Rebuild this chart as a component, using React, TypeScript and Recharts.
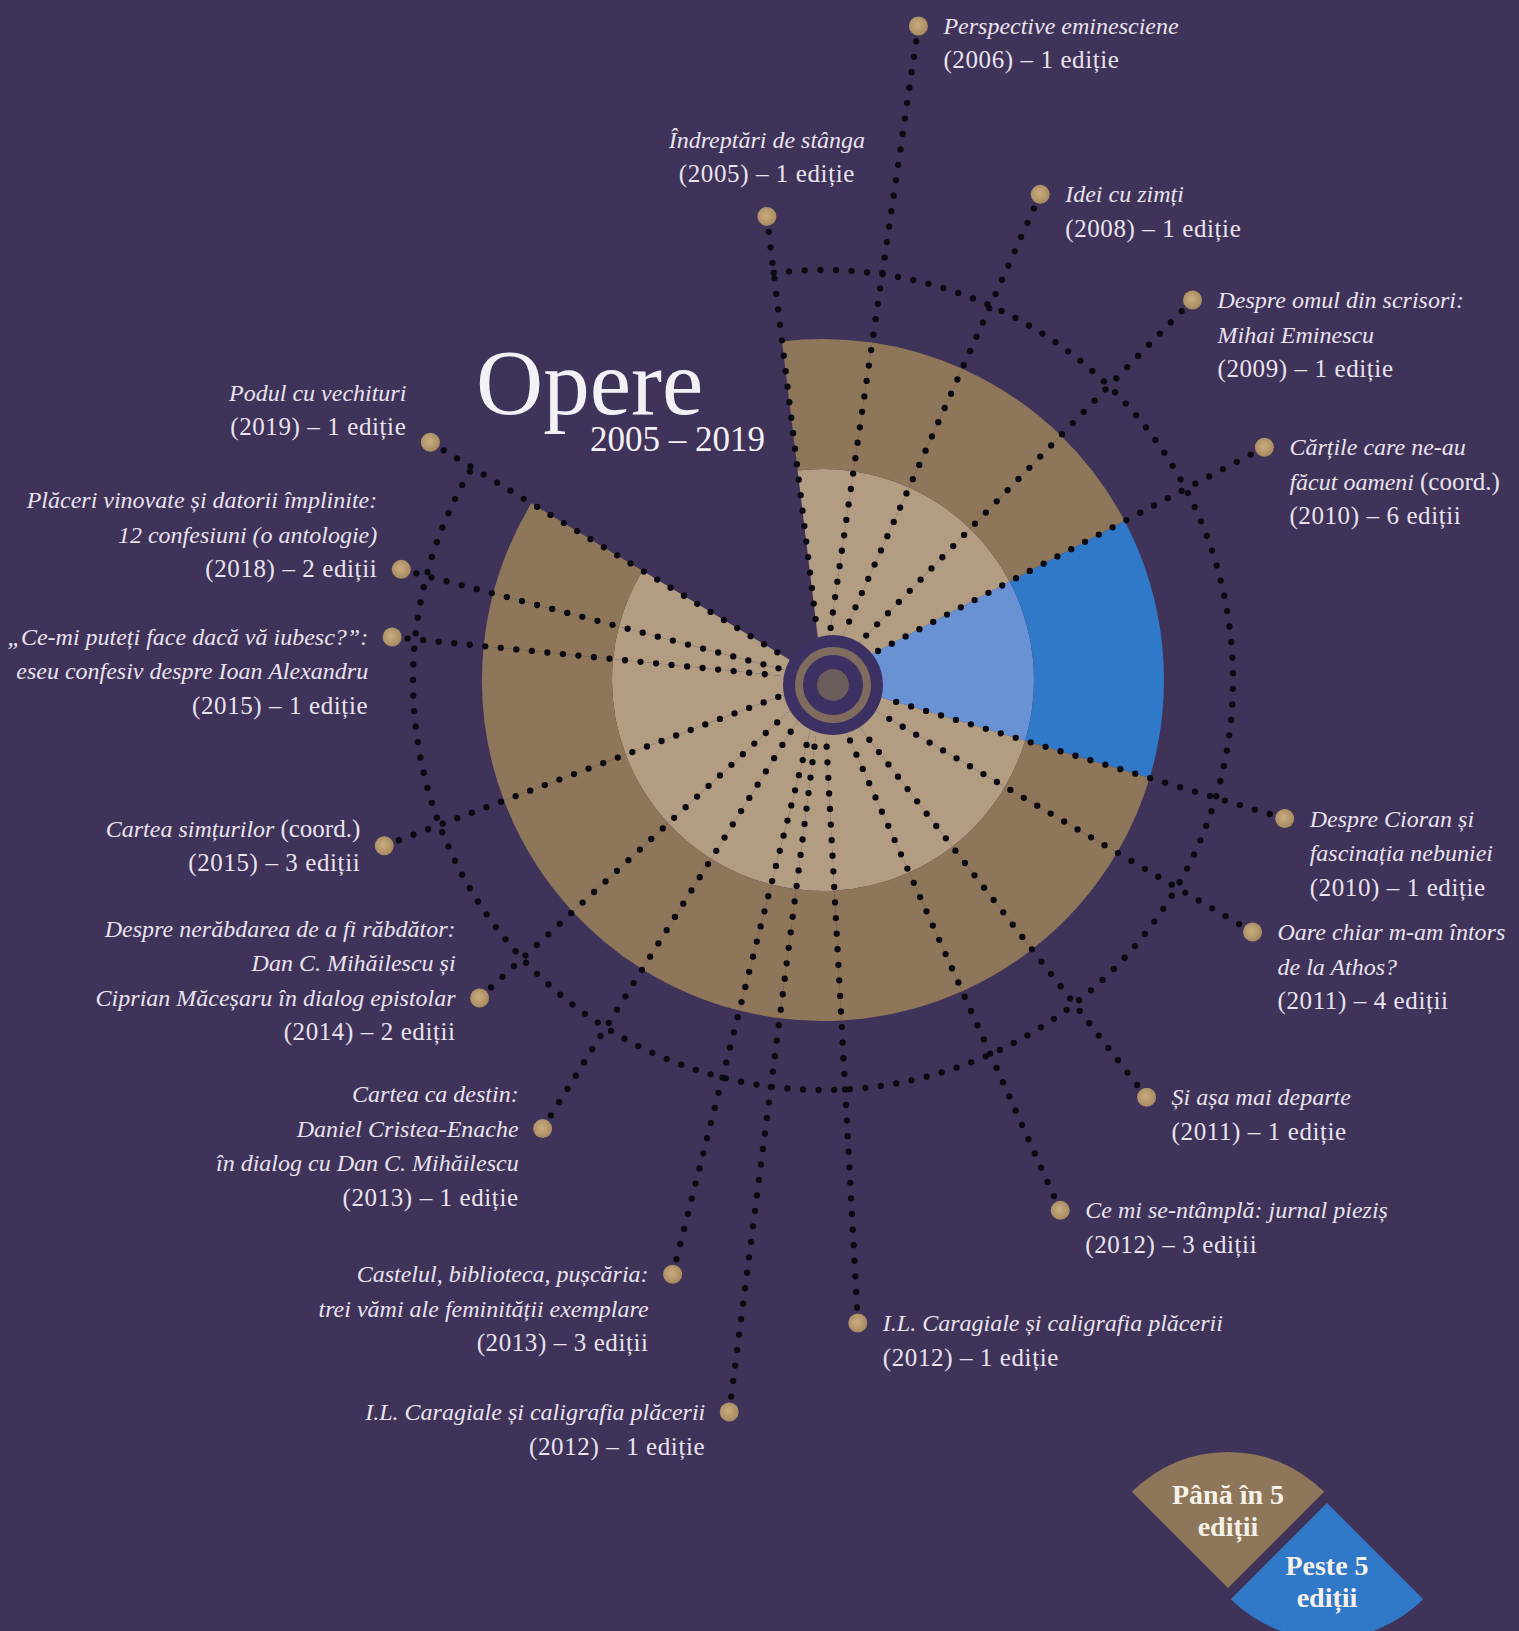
import { PieChart, Pie, Cell } from "recharts";

// books in clockwise order, starting from the top-left edge of the fan
const titles: string[][] = [
  ["Îndreptări de stânga"],
  ["Perspective eminesciene"],
  ["Idei cu zimți"],
  ["Despre omul din scrisori:", "Mihai Eminescu"],
  ["Cărțile care ne-au", "făcut oameni (coord.)"],
  ["Despre Cioran și", "fascinația nebuniei"],
  ["Oare chiar m-am întors", "de la Athos?"],
  ["Și așa mai departe"],
  ["Ce mi se-ntâmplă: jurnal pieziș"],
  ["I.L. Caragiale și caligrafia plăcerii"],
  ["I.L. Caragiale și caligrafia plăcerii"],
  ["Castelul, biblioteca, pușcăria:", "trei vămi ale feminității exemplare"],
  ["Cartea ca destin:", "Daniel Cristea-Enache", "în dialog cu Dan C. Mihăilescu"],
  ["Despre nerăbdarea de a fi răbdător:", "Dan C. Mihăilescu și", "Ciprian Măceșaru în dialog epistolar"],
  ["Cartea simțurilor (coord.)"],
  ["„Ce-mi puteți face dacă vă iubesc?”:", "eseu confesiv despre Ioan Alexandru"],
  ["Plăceri vinovate și datorii împlinite:", "12 confesiuni (o antologie)"],
  ["Podul cu vechituri"],
];
const years = [2005, 2006, 2008, 2009, 2010, 2010, 2011, 2011, 2012, 2012, 2012, 2013, 2013, 2014, 2015, 2015, 2018, 2019];
const editions = [1, 1, 1, 1, 6, 1, 4, 1, 3, 1, 1, 3, 1, 2, 3, 1, 2, 1];
// angular share (deg) of each wedge; the last book closes the fan, its wedge stays open
const spans = [15.2, 15.8, 20.1, 18.0, 44.5, 13.7, 21.8, 13.7, 21.0, 10.4, 6.9, 17.8, 15.2, 22.1, 26.4, 9.0, 16.5, 51.9];

const legendLow = ["Până în 5", "ediții"];
const legendHigh = ["Peste 5", "ediții"];

// label placement (kept apart from the data)
const reach = [467, 661, 532, 530, 499, 482, 498, 528, 581, 644, 738, 613, 529, 468, 469, 433, 436, 459];
const side = ["top", "right", "right", "right", "right", "right", "right", "right", "right", "right",
  "left", "left", "left", "left", "left", "left", "left", "left"];
const dotLine = [0, 0, 0, 0, 0, 0, 0, 0, 0, 0, 0, 0, 1, 2, 0.5, 0, 2, 1.44];

const CX = 823;
const CY = 680;
const START = 96.9;
const HUB_DX = 10;
const HUB_DY = 5;
const HUB_R = 50;
const LINE = 34.5;
const FONT = "'Liberation Serif', 'Times New Roman', serif";

const BG = "#403359";
const TAN = "#8e765a";
const TAN_LIGHT = "#b29d83";
const BLUE = "#3078c8";
const BLUE_LIGHT = "#6892d4";
const INK = "#0b0912";
const TEXT = "#e8e3ef";
const DOT_W = 6.3;

const books = titles.map((t, i) => ({
  name: t.join(" "),
  year: years[i],
  editions: editions[i],
  span: spans[i],
}));
const last = books.length - 1;
const covered = spans.slice(0, last).reduce((a, b) => a + b, 0);
const orbit = [{ span: covered }, { span: spans[last] }];
const unit = [{ v: 1 }];

const editionText = (n: number) => `${n} ${n === 1 ? "ediție" : "ediții"}`;

function textLine(t: string, italic: boolean) {
  if (italic && t.includes(" (coord.)")) {
    const [head] = t.split(" (coord.)");
    return (
      <>
        <tspan fontStyle="italic" fontSize={24}>{head} </tspan>
        <tspan fontStyle="normal" fontSize={25}>(coord.)</tspan>
      </>
    );
  }
  return (
    <tspan fontStyle={italic ? "italic" : "normal"} fontSize={italic ? 24 : 25} letterSpacing={italic ? 0 : 0.6}>
      {t}
    </tspan>
  );
}

function Spoke(p: any) {
  const i = p.index;
  const a = (p.startAngle * Math.PI) / 180;
  const ux = Math.cos(a);
  const uy = -Math.sin(a);
  const uw = ux * HUB_DX + uy * HUB_DY;
  const t0 = uw + Math.sqrt(uw * uw - (HUB_DX * HUB_DX + HUB_DY * HUB_DY) + HUB_R * HUB_R) + 5;
  const r = reach[i];
  const x1 = p.cx + ux * t0;
  const y1 = p.cy + uy * t0;
  const x2 = p.cx + ux * r;
  const y2 = p.cy + uy * r;
  const lines = [
    ...titles[i].map((t) => ({ t, it: true })),
    { t: `(${years[i]}) – ${editionText(editions[i])}`, it: false },
  ];
  const s = side[i];
  const n = lines.length;
  const tx = s === "right" ? x2 + 25 : s === "left" ? x2 - 24 : x2;
  const anchor = s === "right" ? "start" : s === "left" ? "end" : "middle";
  const baseline = (k: number) =>
    s === "top" ? y2 - 34 - (n - 1 - k) * LINE : y2 + 8 + (k - dotLine[i]) * LINE;
  return (
    <g key={`spoke-${i}`}>
      <line x1={x2} y1={y2} x2={x1} y2={y1} stroke={INK} strokeWidth={DOT_W} strokeLinecap="round" strokeDasharray="0 15.6" />
      <circle cx={x2} cy={y2} r={9.5} fill="url(#dotGrad)" />
      <text fontFamily={FONT} fill={TEXT} textAnchor={anchor}>
        {lines.map((l, k) => (
          <tspan key={k} x={tx} y={baseline(k)}>
            {textLine(l.t, l.it)}
          </tspan>
        ))}
      </text>
    </g>
  );
}

function OrbitArc(p: any) {
  if (p.index !== 0) return <g key="orbit-gap" />;
  const r = 410;
  const pt = (deg: number) => {
    const a = (deg * Math.PI) / 180;
    return [p.cx + r * Math.cos(a), p.cy - r * Math.sin(a)];
  };
  const [sx, sy] = pt(p.startAngle);
  const [ex, ey] = pt(p.endAngle);
  const large = Math.abs(p.startAngle - p.endAngle) > 180 ? 1 : 0;
  return (
    <path
      key="orbit"
      d={`M ${sx} ${sy} A ${r} ${r} 0 ${large} 1 ${ex} ${ey}`}
      fill="none"
      stroke={INK}
      strokeWidth={DOT_W}
      strokeLinecap="round"
      strokeDasharray="0 15.6"
    />
  );
}

function legendLabel(lines: string[]) {
  return (p: any) => {
    const a = (p.midAngle * Math.PI) / 180;
    const x = p.cx + Math.cos(a) * p.outerRadius * 0.57;
    const y = p.cy - Math.sin(a) * p.outerRadius * 0.57;
    return (
      <text key={`lg-${lines[0]}`} fontFamily={FONT} fontWeight="bold" fontSize={28} fill="#f6f1e8" textAnchor="middle">
        {lines.map((t, k) => (
          <tspan key={k} x={x} y={y + 10 + (k - (lines.length - 1) / 2) * 32}>
            {t}
          </tspan>
        ))}
      </text>
    );
  };
}

export default function App() {
  return (
    <div style={{ position: "absolute", left: 0, top: 0, width: 1519, height: 1631, background: BG, overflow: "hidden" }}>
      <PieChart width={1519} height={1631} margin={{ top: 0, right: 0, bottom: 0, left: 0 }}>
        <defs>
          <radialGradient id="dotGrad" cx="45%" cy="45%" r="60%">
            <stop offset="0%" stopColor="#c9ad80" />
            <stop offset="100%" stopColor="#a4875d" />
          </radialGradient>
        </defs>
        <Pie data={books} dataKey="span" cx={CX} cy={CY} innerRadius={0} outerRadius={211}
          startAngle={START} endAngle={START - 360} stroke="none" isAnimationActive={false}>
          {books.map((b, i) => (
            <Cell key={i} fill={i === last ? "none" : b.editions > 5 ? BLUE_LIGHT : TAN_LIGHT} />
          ))}
        </Pie>
        <Pie data={books} dataKey="span" cx={CX} cy={CY} innerRadius={211} outerRadius={341}
          startAngle={START} endAngle={START - 360} stroke="none" isAnimationActive={false}>
          {books.map((b, i) => (
            <Cell key={i} fill={i === last ? "none" : b.editions > 5 ? BLUE : TAN} />
          ))}
        </Pie>
        <Pie data={orbit} dataKey="span" cx={CX} cy={CY} innerRadius={409} outerRadius={410}
          startAngle={START} endAngle={START - 360} fill="none" stroke="none"
          label={OrbitArc} labelLine={false} isAnimationActive={false} />
        <Pie data={books} dataKey="span" cx={CX} cy={CY} innerRadius={0} outerRadius={1}
          startAngle={START} endAngle={START - 360} fill="none" stroke="none"
          label={Spoke} labelLine={false} isAnimationActive={false} />
        <Pie data={unit} dataKey="v" cx={CX + HUB_DX} cy={CY + HUB_DY} innerRadius={0} outerRadius={HUB_R}
          fill="#3d3163" stroke="none" isAnimationActive={false} />
        <Pie data={unit} dataKey="v" cx={CX + HUB_DX} cy={CY + HUB_DY} innerRadius={30} outerRadius={38}
          fill="#7f6c5f" stroke="none" isAnimationActive={false} />
        <Pie data={unit} dataKey="v" cx={CX + HUB_DX} cy={CY + HUB_DY} innerRadius={0} outerRadius={16}
          fill="#6d5c5c" stroke="none" isAnimationActive={false} />
        <Pie data={unit} dataKey="v" cx={1228} cy={1588} innerRadius={0} outerRadius={136}
          startAngle={135} endAngle={45} fill={TAN} stroke="none"
          label={legendLabel(legendLow)} labelLine={false} isAnimationActive={false} />
        <Pie data={unit} dataKey="v" cx={1327} cy={1503} innerRadius={0} outerRadius={136}
          startAngle={-45} endAngle={-135} fill={BLUE} stroke="none"
          label={legendLabel(legendHigh)} labelLine={false} isAnimationActive={false} />
        <text x={476} y={414} fontFamily={FONT} fontSize={93} fill="#f4f1f6">Opere</text>
        <text x={590} y={451} fontFamily={FONT} fontSize={35} fill="#f4f1f6">2005 – 2019</text>
      </PieChart>
    </div>
  );
}
